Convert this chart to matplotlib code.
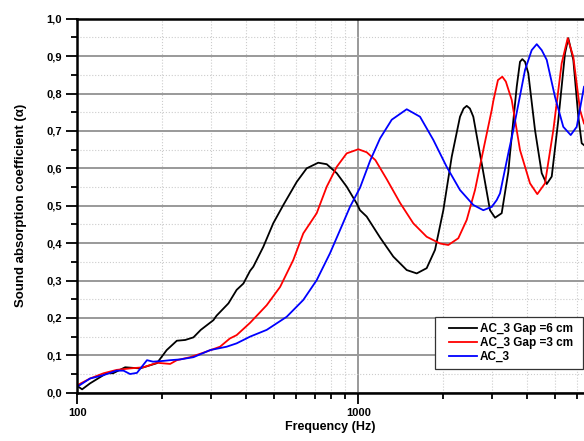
import matplotlib
matplotlib.use("Agg")
import matplotlib.pyplot as plt
from matplotlib.patches import Rectangle
from matplotlib.ticker import FixedLocator, FuncFormatter, MultipleLocator, NullFormatter

plt.rcParams["font.family"] = ["Liberation Sans", "DejaVu Sans"]
plt.rcParams["font.weight"] = "bold"

# AC_3 Gap =6 cm
freq_gap6 = [100, 104, 111, 127, 134, 148, 167, 192, 208, 226, 242, 259, 275, 305,
             313, 340, 345, 369, 390, 412, 423, 459, 498, 541, 604, 655, 720, 772,
             838, 909, 987, 1014, 1071, 1195, 1332, 1487, 1614, 1751, 1875, 2007,
             2150, 2301, 2370, 2431, 2495, 2566, 2749, 2942, 3066, 3238, 3418, 3467,
             3662, 3762, 3834, 3920, 4027, 4255, 4495, 4683, 4879, 5149, 5439, 5588,
             5823, 6067, 6237, 6356]
alpha_gap6 = [0.018, 0.009, 0.025, 0.052, 0.052, 0.068, 0.065, 0.079, 0.114, 0.139,
              0.141, 0.148, 0.168, 0.194, 0.206, 0.234, 0.239, 0.275, 0.292, 0.326,
              0.337, 0.390, 0.453, 0.502, 0.564, 0.600, 0.615, 0.611, 0.587, 0.551,
              0.506, 0.488, 0.471, 0.415, 0.364, 0.328, 0.319, 0.333, 0.382, 0.488,
              0.631, 0.738, 0.760, 0.767, 0.760, 0.738, 0.613, 0.488, 0.468, 0.480,
              0.590, 0.640, 0.818, 0.885, 0.892, 0.885, 0.854, 0.702, 0.587, 0.558,
              0.578, 0.729, 0.907, 0.948, 0.890, 0.738, 0.667, 0.662]

# AC_3 Gap =3 cm
freq_gap3 = [100, 111, 124, 138, 154, 172, 192, 214, 226, 252, 281, 322, 349, 369,
             412, 472, 527, 587, 637, 711, 772, 838, 909, 1000, 1071, 1150, 1262,
             1407, 1569, 1751, 1953, 2091, 2269, 2431, 2602, 2785, 2984, 3023, 3140,
             3254, 3350, 3515, 3762, 4083, 4335, 4618, 4943, 5294, 5561, 5823, 6152,
             6356]
alpha_gap3 = [0.020, 0.038, 0.052, 0.061, 0.065, 0.068, 0.080, 0.077, 0.087, 0.095,
              0.107, 0.123, 0.145, 0.154, 0.187, 0.234, 0.283, 0.355, 0.426, 0.480,
              0.551, 0.604, 0.640, 0.651, 0.643, 0.622, 0.571, 0.508, 0.453, 0.417,
              0.399, 0.395, 0.413, 0.462, 0.542, 0.649, 0.756, 0.780, 0.836, 0.845,
              0.832, 0.783, 0.649, 0.560, 0.531, 0.560, 0.702, 0.881, 0.948, 0.898,
              0.756, 0.720]

# AC_3
freq_ac3 = [100, 111, 124, 138, 146, 154, 163, 177, 186, 202, 214, 232, 259, 297,
            340, 369, 412, 472, 556, 637, 711, 793, 861, 934, 1014, 1101, 1195, 1315,
            1487, 1658, 1849, 2063, 2301, 2566, 2785, 2984, 3108, 3194, 3418, 3561,
            3920, 4140, 4315, 4495, 4683, 5012, 5364, 5700, 5988, 6356]
alpha_ac3 = [0.016, 0.038, 0.047, 0.059, 0.059, 0.050, 0.053, 0.087, 0.083, 0.085,
             0.087, 0.089, 0.095, 0.114, 0.123, 0.132, 0.150, 0.168, 0.203, 0.248,
             0.301, 0.373, 0.435, 0.497, 0.548, 0.620, 0.680, 0.730, 0.758, 0.738,
             0.676, 0.604, 0.542, 0.502, 0.488, 0.497, 0.515, 0.533, 0.640, 0.702,
             0.863, 0.916, 0.932, 0.916, 0.890, 0.791, 0.711, 0.689, 0.711, 0.818]

fig = plt.figure(figsize=(5.84, 4.41), dpi=100)
ax = fig.add_axes([0.1324, 0.1095, 0.8676, 0.848])

ax.plot(freq_gap6, alpha_gap6, color="black", lw=1.3, label="AC_3 Gap =6 cm")
ax.plot(freq_gap3, alpha_gap3, color="red", lw=1.3, label="AC_3 Gap =3 cm")
ax.plot(freq_ac3, alpha_ac3, color="blue", lw=1.3, label="AC_3")

ax.set_xscale("log")
ax.set_xlim(100, 6356)
ax.set_ylim(0, 1.0)

ax.xaxis.set_major_locator(FixedLocator([100, 1000]))
ax.xaxis.set_minor_locator(FixedLocator([200, 300, 400, 500, 600, 700, 800, 900,
                                         2000, 3000, 4000, 5000, 6000]))
ax.xaxis.set_major_formatter(FuncFormatter(lambda v, p: f"{v:.0f}"))
ax.xaxis.set_minor_formatter(NullFormatter())
ax.yaxis.set_major_locator(MultipleLocator(0.1))
ax.yaxis.set_minor_locator(MultipleLocator(0.05))
ax.yaxis.set_major_formatter(FuncFormatter(lambda v, p: f"{v:.1f}".replace(".", ",")))

ax.grid(which="major", color="#999999", lw=1.4, ls="-")
ax.grid(which="minor", color="#cccccc", lw=0.8, ls=":")
ax.set_axisbelow(True)

ax.tick_params(which="major", direction="out", length=8, width=1.3, labelsize=8, pad=3)
ax.tick_params(which="minor", direction="out", length=4, width=1.3)
for lbl in ax.get_xticklabels() + ax.get_yticklabels():
    lbl.set_fontweight("bold")

for side in ["left", "bottom", "top"]:
    ax.spines[side].set_linewidth(1.8)
ax.spines["right"].set_visible(False)

ax.set_xlabel("Frequency (Hz)", fontsize=9, fontweight="bold", labelpad=2)
ax.set_ylabel("Sound absorption coefficient (\u03b1)", fontsize=9.5, fontweight="bold",
              labelpad=14)

# legend frame drawn separately so it can be wider than its contents
frame = Rectangle((0.706, 0.0634), 0.293, 0.1398, transform=ax.transAxes,
                  facecolor="white", edgecolor="#333333", lw=0.9, zorder=4)
ax.add_patch(frame)
leg = ax.legend(loc="center left", bbox_to_anchor=(0.7336, 0.133), fontsize=8.5,
                frameon=False, handlelength=2.4, handletextpad=0.2, borderpad=0,
                labelspacing=0.15, borderaxespad=0)
leg.set_zorder(5)
for t in leg.get_texts():
    t.set_fontweight("bold")

fig.savefig("out.png", dpi=100)
